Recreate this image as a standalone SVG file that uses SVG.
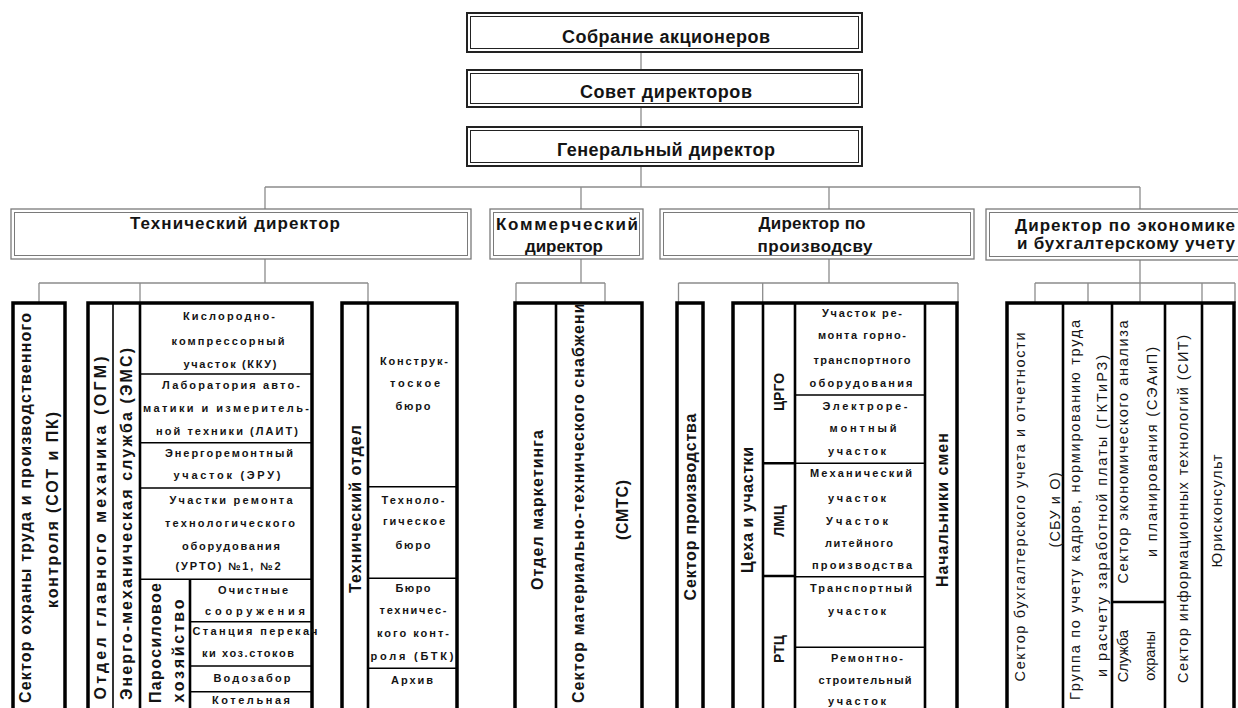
<svg xmlns="http://www.w3.org/2000/svg" width="1238" height="708" viewBox="0 0 1238 708">
<defs>
<style>
text{font-family:"Liberation Sans",Arial,sans-serif;fill:#141414}
.t1{font-size:18px;font-weight:bold;text-anchor:middle}
.t2{font-size:17px;font-weight:bold}
.vb{font-size:16px;font-weight:bold;text-anchor:middle;dominant-baseline:central}
.vr{font-size:14.5px;text-anchor:middle;dominant-baseline:central}
.sb{font-size:11px;font-weight:bold;text-anchor:middle}
.ob{fill:#fff;stroke:#222;stroke-width:2}
.ib{fill:none;stroke:#222;stroke-width:1}
.o2{fill:#fff;stroke:#7a7a7a;stroke-width:1.3}
.i2{fill:none;stroke:#7a7a7a;stroke-width:1}
.bx{fill:#fff;stroke:#000;stroke-width:3.5}
.dv{stroke:#000;stroke-width:1.6;fill:none}
.dk{stroke:#000;stroke-width:2.6;fill:none}
.cn{stroke:#8c8c8c;stroke-width:1.3;fill:none}
</style>
<clipPath id="clipSmtc"><rect x="556" y="305" width="86" height="420"/></clipPath>
</defs>
<rect width="1238" height="708" fill="#fff"/>

<g id="connectors">
<path class="cn" d="M641 52V70M641 107V127M641 166V187"/>
<path class="cn" d="M265 187H1140M265 187V209M581 187V209M829 187V209M1140 187V209"/>
<path class="cn" d="M265 259V283M39 283H368M39 283V303M140 283V303M368 283V303"/>
<path class="cn" d="M581 259V283M516 283H605M516 283V303M605 283V303"/>
<path class="cn" d="M829 259V283M678.5 283H958M678.5 283V303M762.7 283V303M958 283V303"/>
<path class="cn" d="M1140 260V283M1035 283H1235M1035 283V303M1088 283V303M1140 283V303M1202 283V303M1235 283V303"/>
</g>

<g id="n-sobranie">
<rect class="ob" x="467" y="13" width="395" height="39"/>
<rect class="ib" x="470.5" y="16.5" width="388" height="32"/>
<text class="t1" x="666" y="42.5" textLength="208" lengthAdjust="spacing">Собрание акционеров</text>
</g>
<g id="n-sovet">
<rect class="ob" x="467" y="70" width="395" height="37"/>
<rect class="ib" x="470.5" y="73.5" width="388" height="30"/>
<text class="t1" x="666" y="98" textLength="172" lengthAdjust="spacing">Совет директоров</text>
</g>
<g id="n-gendir">
<rect class="ob" x="467" y="127" width="395" height="39"/>
<rect class="ib" x="470.5" y="130.5" width="388" height="32"/>
<text class="t1" x="666" y="156" textLength="218" lengthAdjust="spacing">Генеральный директор</text>
</g>

<g id="n-techdir">
<rect class="o2" x="11" y="209" width="460" height="50"/>
<rect class="i2" x="14.5" y="212.5" width="453" height="43"/>
<text class="t2" x="235" y="229" text-anchor="middle" textLength="210" lengthAdjust="spacing">Технический директор</text>
</g>
<g id="n-komdir">
<rect class="o2" x="490" y="209" width="153" height="50"/>
<rect class="i2" x="493.5" y="212.5" width="146" height="43"/>
<text class="t2" x="567" y="230" text-anchor="middle" textLength="142" lengthAdjust="spacing">Коммерческий</text>
<text class="t2" x="564" y="251.5" text-anchor="middle" textLength="78" lengthAdjust="spacing">директор</text>
</g>
<g id="n-proddir">
<rect class="o2" x="660" y="209" width="314" height="50"/>
<rect class="i2" x="663.5" y="212.5" width="307" height="43"/>
<text class="t2" x="812" y="229" text-anchor="middle" textLength="107" lengthAdjust="spacing">Директор по</text>
<text class="t2" x="815" y="251.5" text-anchor="middle" textLength="115" lengthAdjust="spacing">производсву</text>
</g>
<g id="n-ekondir">
<rect class="o2" x="986" y="209" width="280" height="51"/>
<rect class="i2" x="989.5" y="212.5" width="273" height="44"/>
<text class="t2" x="1015" y="231" textLength="220" lengthAdjust="spacing">Директор по экономике</text>
<text class="t2" x="1017" y="248.5" textLength="218" lengthAdjust="spacing">и бухгалтерскому учету</text>
</g>

<g id="n-sot">
<rect class="bx" x="13" y="303" width="52" height="420"/>
<text class="vb" transform="translate(25,508) rotate(-90)" textLength="390" lengthAdjust="spacing">Сектор охраны труда и производственного</text>
<text class="vb" transform="translate(52,510) rotate(-90)" textLength="196" lengthAdjust="spacing">контроля (СОТ и ПК)</text>
</g>

<g id="n-ogm">
<rect class="bx" x="88" y="303" width="224" height="420"/>
<path class="dv" d="M113 303V723"/>
<path class="dk" d="M140 303V723"/>
<path class="dv" d="M140 374H312M140 442.7H312M140 488H312M140 579.3H312"/>
<path class="dk" d="M190 579.3V723"/>
<path class="dv" d="M190 621.7H312M190 666H312M190 691.7H312"/>
<text class="vb" transform="translate(100,528) rotate(-90)" textLength="343" lengthAdjust="spacing">Отдел главного механика  (ОГМ)</text>
<text class="vb" transform="translate(126,524) rotate(-90)" textLength="352" lengthAdjust="spacing">Энерго-механическая служба (ЭМС)</text>
<text class="vb" transform="translate(155,643) rotate(-90)" textLength="120" lengthAdjust="spacing">Паросиловое</text>
<text class="vb" transform="translate(178,651) rotate(-90)" textLength="103" lengthAdjust="spacing">хозяйство</text>
<text class="sb" x="229" y="320.4" textLength="92" lengthAdjust="spacing">Кислородно-</text>
<text class="sb" x="228" y="344.7" textLength="113" lengthAdjust="spacing">компрессорный</text>
<text class="sb" x="230" y="367.7" textLength="93" lengthAdjust="spacing">участок (ККУ)</text>
<text class="sb" x="231" y="389.4" textLength="138" lengthAdjust="spacing">Лаборатория авто-</text>
<text class="sb" x="226" y="411.7" textLength="166" lengthAdjust="spacing">матики и измеритель-</text>
<text class="sb" x="227" y="435.4" textLength="142" lengthAdjust="spacing">ной техники (ЛАИТ)</text>
<text class="sb" x="229" y="456.7" textLength="128" lengthAdjust="spacing">Энергоремонтный</text>
<text class="sb" x="227" y="478.7" textLength="107" lengthAdjust="spacing">участок (ЭРУ)</text>
<text class="sb" x="231" y="503.7" textLength="123" lengthAdjust="spacing">Участки ремонта</text>
<text class="sb" x="230" y="526.7" textLength="130" lengthAdjust="spacing">технологического</text>
<text class="sb" x="231" y="550.4" textLength="98" lengthAdjust="spacing">оборудования</text>
<text class="sb" x="228" y="570.4" textLength="105" lengthAdjust="spacing">(УРТО) №1, №2</text>
<text class="sb" x="253" y="593.7" textLength="70" lengthAdjust="spacing">Очистные</text>
<text class="sb" x="255" y="615.4" textLength="100" lengthAdjust="spacing">сооружения</text>
<text class="sb" x="255" y="635.4" textLength="125" lengthAdjust="spacing">Станция перекач</text>
<text class="sb" x="248" y="657" textLength="92" lengthAdjust="spacing">ки хоз.стоков</text>
<text class="sb" x="252" y="682" textLength="77" lengthAdjust="spacing">Водозабор</text>
<text class="sb" x="251" y="703.7" textLength="78" lengthAdjust="spacing">Котельная</text>
</g>

<g id="n-techotdel">
<rect class="bx" x="342" y="303" width="115" height="420"/>
<path class="dk" d="M368 303V723"/>
<path class="dv" d="M368 486.7H457M368 578.3H457M368 668.3H457"/>
<text class="vb" transform="translate(355,509) rotate(-90)" textLength="168" lengthAdjust="spacing">Технический отдел</text>
<text class="sb" x="414" y="365.4" textLength="68" lengthAdjust="spacing">Конструк-</text>
<text class="sb" x="415" y="387" textLength="50" lengthAdjust="spacing">тоское</text>
<text class="sb" x="413" y="410.4" textLength="35" lengthAdjust="spacing">бюро</text>
<text class="sb" x="413" y="503.7" textLength="63" lengthAdjust="spacing">Техноло-</text>
<text class="sb" x="414" y="525.4" textLength="62" lengthAdjust="spacing">гическое</text>
<text class="sb" x="413" y="548.7" textLength="35" lengthAdjust="spacing">бюро</text>
<text class="sb" x="413" y="592" textLength="35" lengthAdjust="spacing">Бюро</text>
<text class="sb" x="413" y="613.7" textLength="67" lengthAdjust="spacing">техничес-</text>
<text class="sb" x="413" y="637" textLength="72" lengthAdjust="spacing">кого конт-</text>
<text class="sb" x="412" y="660.4" textLength="83" lengthAdjust="spacing">роля (БТК)</text>
<text class="sb" x="412" y="683.7" textLength="42" lengthAdjust="spacing">Архив</text>
</g>

<g id="n-komm">
<rect class="bx" x="515" y="303" width="127" height="420"/>
<path class="dk" d="M556 303V723"/>
<text class="vb" transform="translate(537,510) rotate(-90)" textLength="160" lengthAdjust="spacing">Отдел маркетинга</text>
<g clip-path="url(#clipSmtc)">
<text class="vb" style="text-anchor:start" transform="translate(578,703) rotate(-90)" textLength="410" lengthAdjust="spacing">Сектор материально-технического снабжения</text>
</g>
<text class="vb" transform="translate(622,510) rotate(-90)" textLength="60" lengthAdjust="spacing">(СМТС)</text>
</g>

<g id="n-sekprod">
<rect class="bx" x="677" y="303" width="26" height="420"/>
<text class="vb" transform="translate(690,507) rotate(-90)" textLength="187" lengthAdjust="spacing">Сектор производства</text>
</g>

<g id="n-cekha">
<rect class="bx" x="733" y="303" width="224" height="420"/>
<path class="dk" d="M763 303V723M795 303V723M925 303V723"/>
<path class="dk" d="M763 463.3H795M763 576H795"/>
<path class="dv" d="M795 395H925M795 463.3H925M795 576.7H925M795 647.3H925"/>
<text class="vb" transform="translate(747,510) rotate(-90)" textLength="126" lengthAdjust="spacing">Цеха и участки</text>
<text class="vb" style="font-size:14px" transform="translate(779,392) rotate(-90)">ЦРГО</text>
<text class="vb" style="font-size:14px" transform="translate(779,521) rotate(-90)">ЛМЦ</text>
<text class="vb" style="font-size:14px" transform="translate(779,649) rotate(-90)">РТЦ</text>
<text class="vb" transform="translate(942,510) rotate(-90)" textLength="154" lengthAdjust="spacing">Начальники смен</text>
<text class="sb" x="862" y="317" textLength="80" lengthAdjust="spacing">Участок ре-</text>
<text class="sb" x="862" y="338.7" textLength="88" lengthAdjust="spacing">монта горно-</text>
<text class="sb" x="862" y="363.7" textLength="97" lengthAdjust="spacing">транспортного</text>
<text class="sb" x="861" y="387" textLength="103" lengthAdjust="spacing">оборудования</text>
<text class="sb" x="865" y="410.4" textLength="85" lengthAdjust="spacing">Электроре-</text>
<text class="sb" x="863" y="432" textLength="67" lengthAdjust="spacing">монтный</text>
<text class="sb" x="857" y="455.4" textLength="58" lengthAdjust="spacing">участок</text>
<text class="sb" x="861" y="477" textLength="102" lengthAdjust="spacing">Механический</text>
<text class="sb" x="857" y="502" textLength="58" lengthAdjust="spacing">участок</text>
<text class="sb" x="857" y="525.4" textLength="62" lengthAdjust="spacing">Участок</text>
<text class="sb" x="859" y="547" textLength="68" lengthAdjust="spacing">литейного</text>
<text class="sb" x="862" y="568.7" textLength="100" lengthAdjust="spacing">производства</text>
<text class="sb" x="861" y="592" textLength="102" lengthAdjust="spacing">Транспортный</text>
<text class="sb" x="857" y="615.4" textLength="58" lengthAdjust="spacing">участок</text>
<text class="sb" x="867" y="662" textLength="72" lengthAdjust="spacing">Ремонтно-</text>
<text class="sb" x="865" y="683.7" textLength="93" lengthAdjust="spacing">строительный</text>
<text class="sb" x="857" y="705.4" textLength="58" lengthAdjust="spacing">участок</text>
</g>

<g id="n-ekon">
<rect class="bx" x="1007" y="303" width="227" height="420"/>
<path class="dk" d="M1063 303V723M1112 303V723M1165 303V723M1202 303V723"/>
<path class="dk" d="M1112 602H1165"/>
<text class="vr" transform="translate(1020,507) rotate(-90)" textLength="349" lengthAdjust="spacing">Сектор бухгалтерского учета и отчетности</text>
<text class="vr" transform="translate(1055,510) rotate(-90)" textLength="75" lengthAdjust="spacing">(СБУ и О)</text>
<text class="vr" transform="translate(1075,510) rotate(-90)" textLength="380" lengthAdjust="spacing">Группа по учету кадров, нормированию труда</text>
<text class="vr" transform="translate(1102,516) rotate(-90)" textLength="322" lengthAdjust="spacing">и расчету заработной платы (ГКТиРЗ)</text>
<text class="vr" transform="translate(1123,452) rotate(-90)" textLength="263" lengthAdjust="spacing">Сектор экономического анализа</text>
<text class="vr" transform="translate(1152,452) rotate(-90)" textLength="210" lengthAdjust="spacing">и планирования (СЭАиП)</text>
<text class="vr" transform="translate(1123,656) rotate(-90)">Служба</text>
<text class="vr" transform="translate(1150,656) rotate(-90)">охраны</text>
<text class="vr" transform="translate(1183,509) rotate(-90)" textLength="348" lengthAdjust="spacing">Сектор информационных технологий (СИТ)</text>
<text class="vr" transform="translate(1217,511) rotate(-90)" textLength="113" lengthAdjust="spacing">Юрисконсульт</text>
</g>
</svg>
